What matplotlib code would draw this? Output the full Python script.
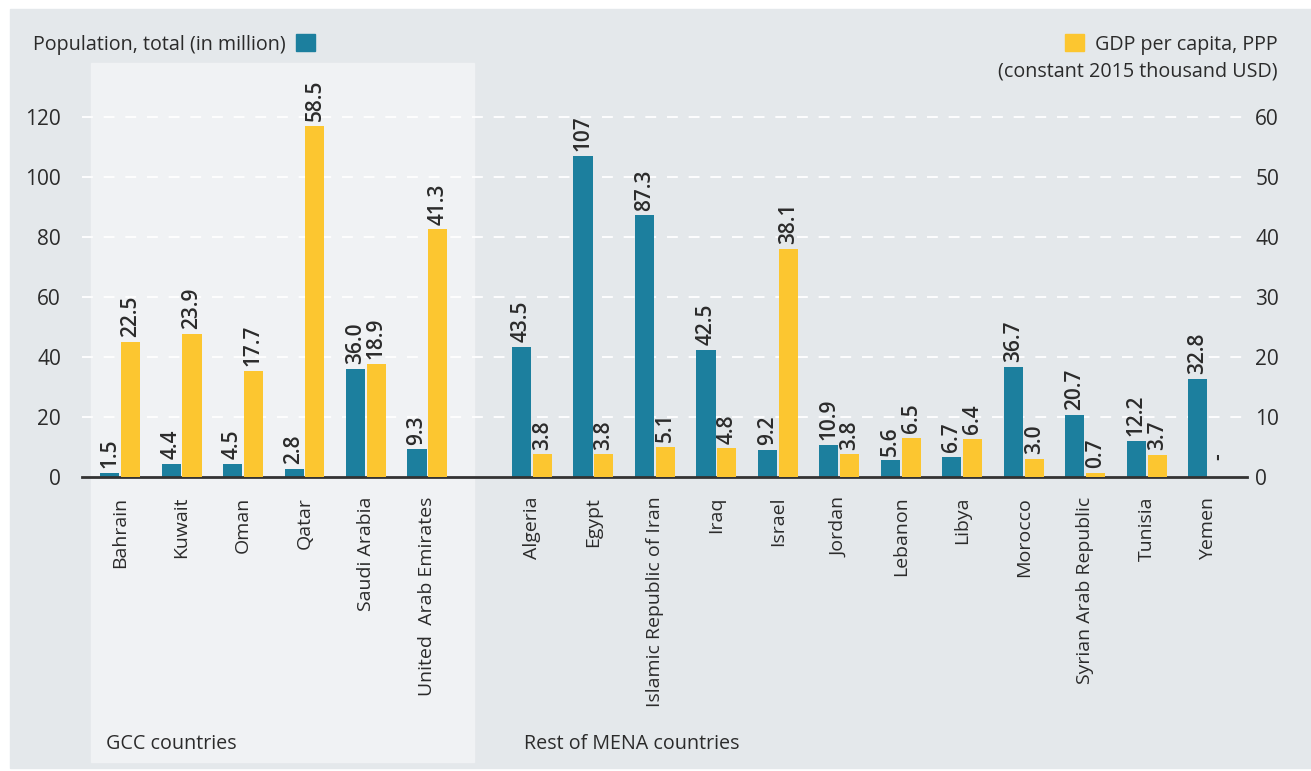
import matplotlib.pyplot as plt
from matplotlib.patches import Rectangle
import numpy as np

plt.rcParams['font.family'] = ['Open Sans', 'DejaVu Sans']

# data
gcc = ['Bahrain', 'Kuwait', 'Oman', 'Qatar', 'Saudi Arabia', 'United  Arab Emirates']
rest = ['Algeria', 'Egypt', 'Islamic Republic of Iran', 'Iraq', 'Israel', 'Jordan',
        'Lebanon', 'Libya', 'Morocco', 'Syrian Arab Republic', 'Tunisia', 'Yemen']
population = [1.5, 4.4, 4.5, 2.8, 36.0, 9.3,
              43.5, 107, 87.3, 42.5, 9.2, 10.9, 5.6, 6.7, 36.7, 20.7, 12.2, 32.8]
pop_labels = ['1.5', '4.4', '4.5', '2.8', '36.0', '9.3',
              '43.5', '107', '87.3', '42.5', '9.2', '10.9', '5.6', '6.7', '36.7', '20.7', '12.2', '32.8']
gdp = [22.5, 23.9, 17.7, 58.5, 18.9, 41.3,
       3.8, 3.8, 5.1, 4.8, 38.1, 3.8, 6.5, 6.4, 3.0, 0.7, 3.7, 0.0]
gdp_labels = ['22.5', '23.9', '17.7', '58.5', '18.9', '41.3',
              '3.8', '3.8', '5.1', '4.8', '38.1', '3.8', '6.5', '6.4', '3.0', '0.7', '3.7', '-']

TEAL = '#1c7f9e'
YELLOW = '#fcc630'
BG = '#e4e8eb'
PANEL = '#f0f2f4'
TXT = '#2b2b2b'

countries = gcc + rest
x = np.concatenate([np.arange(len(gcc)), 6.7 + np.arange(len(rest))])
w = 0.31
off = 0.17

fig = plt.figure(figsize=(13.11, 7.71), dpi=100, facecolor='white')
fig.patches.append(Rectangle((10 / 1311, 3 / 771), 1301 / 1311, 759 / 771,
                             transform=fig.transFigure, color=BG, zorder=-3))
fig.patches.append(Rectangle((91 / 1311, 9 / 771), 383 / 1311, 699 / 771,
                             transform=fig.transFigure, color=PANEL, zorder=-2))

ax = fig.add_axes([0.0625, 0.381, 0.8887, 0.5058])
ax.set_facecolor('none')
ax2 = ax.twinx()
ax2.set_facecolor('none')

ax.bar(x - off, population, width=w, color=TEAL, zorder=3)
ax2.bar(x + off, gdp, width=w, color=YELLOW, zorder=3)

for xi, v, s in zip(x, population, pop_labels):
    ax.text(xi - off, v + 1.6, s, rotation=90, ha='center', va='bottom',
            fontsize=15, fontweight='semibold', color=TXT, clip_on=False)
for xi, v, s in zip(x, gdp, gdp_labels):
    ax2.text(xi + off, v + 0.8 + (2.0 if s == '-' else 0), s, rotation=90, ha='center', va='bottom',
             fontsize=15, fontweight='semibold', color=TXT, clip_on=False)

ax.set_xlim(-0.62, 18.33)
ax.set_ylim(0, 130)
ax2.set_ylim(0, 65)
ax.set_yticks(range(0, 121, 20))
ax2.set_yticks(range(0, 61, 10))

for yv in range(20, 121, 20):
    ax.axhline(yv, color='white', lw=1.3, linestyle=(0, (6, 6)), zorder=1)
ax.axhline(0, color='#333333', lw=2, zorder=4, clip_on=False)

ax.set_xticks(x)
ax.set_xticklabels(countries, rotation=90, fontsize=14, color=TXT)
ax.tick_params(axis='x', length=0, pad=14)
ax.tick_params(axis='y', length=0, pad=15, labelsize=15, labelcolor=TXT)
ax2.tick_params(axis='y', length=0, pad=6, labelsize=15, labelcolor=TXT)
for a in (ax, ax2):
    for sp in a.spines.values():
        sp.set_visible(False)

# legend-like headers
fig.text(33 / 1311, 1 - 50 / 771, 'Population, total (in million)', fontsize=14.2,
         color=TXT, ha='left', va='baseline')
fig.patches.append(Rectangle((296 / 1311, 1 - 51 / 771), 19 / 1311, 17 / 771,
                             transform=fig.transFigure, color=TEAL))
fig.text(1278 / 1311, 1 - 50 / 771, 'GDP per capita, PPP', fontsize=14.2,
         color=TXT, ha='right', va='baseline')
fig.text(1278 / 1311, 1 - 76 / 771, '(constant 2015 thousand USD)', fontsize=14.2,
         color=TXT, ha='right', va='baseline')
fig.patches.append(Rectangle((1065 / 1311, 1 - 51 / 771), 19 / 1311, 17 / 771,
                             transform=fig.transFigure, color=YELLOW))

fig.text(106 / 1311, 1 - 749 / 771, 'GCC countries', fontsize=14.2, color=TXT,
         ha='left', va='baseline')
fig.text(524 / 1311, 1 - 749 / 771, 'Rest of MENA countries', fontsize=14.2, color=TXT,
         ha='left', va='baseline')

fig.savefig('out.png', dpi=100, facecolor='white')
